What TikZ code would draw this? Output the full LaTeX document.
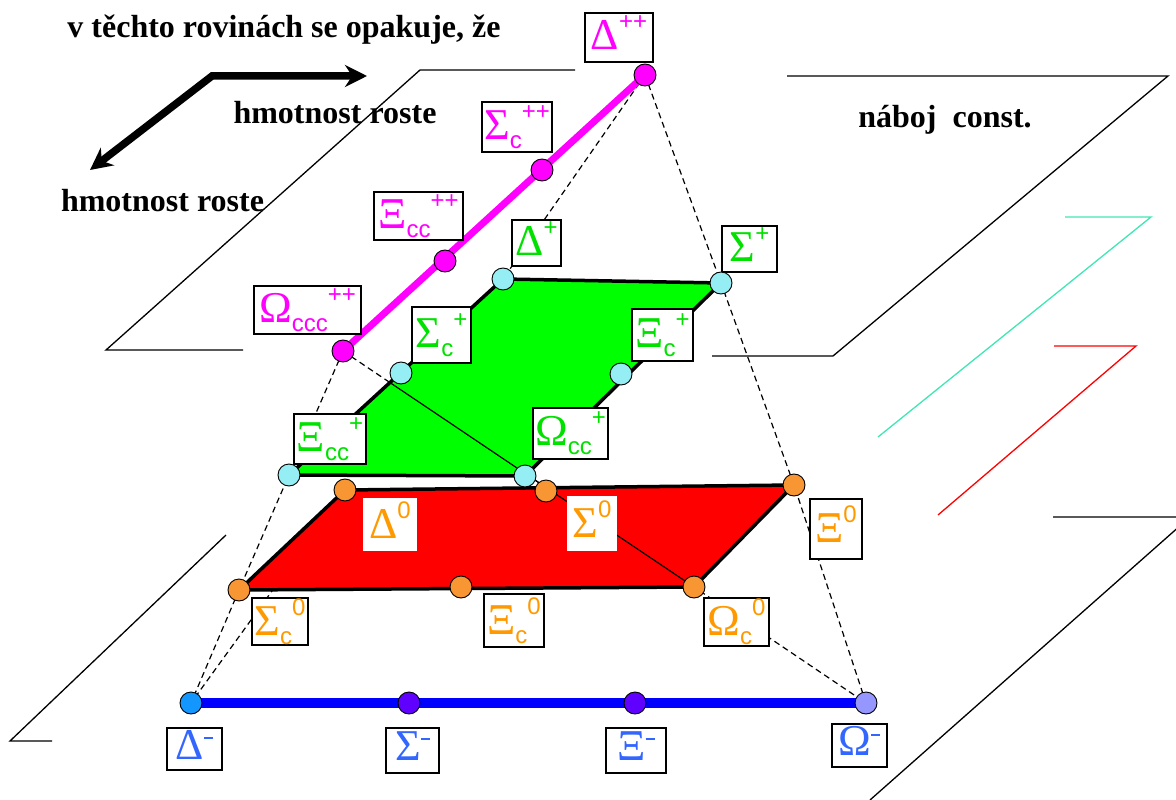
\documentclass[tikz,border=0pt]{standalone}
\usepackage{fontspec}
\setmainfont{Liberation Serif}
\newfontfamily\sansf{Liberation Sans}
\usetikzlibrary{arrows.meta,calc}
\definecolor{mag}{RGB}{255,0,255}
\definecolor{grn}{RGB}{0,255,0}
\definecolor{grntxt}{RGB}{0,225,0}
\definecolor{cyn}{RGB}{150,238,245}
\definecolor{orn}{RGB}{248,150,52}
\definecolor{orntxt}{RGB}{255,153,0}
\definecolor{bltxt}{RGB}{51,102,255}
\definecolor{bline}{RGB}{0,0,255}
\definecolor{dmin}{RGB}{20,150,255}
\definecolor{smin}{RGB}{96,0,255}
\definecolor{omin}{RGB}{150,150,255}
\definecolor{aqua}{RGB}{64,230,180}
\pgfdeclarelayer{back}
\pgfdeclarelayer{poly}
\pgfdeclarelayer{lines}
\pgfsetlayers{back,poly,lines,main}
\newcommand{\glab}[3]{\fontsize{44}{44}\selectfont #1{\sansf\fontsize{24}{24}\selectfont\raisebox{-9pt}{#2}\raisebox{20pt}{#3}}}
\newcommand{\mns}{\rule{9pt}{2pt}}
\tikzset{
  plane/.style={line width=1.3pt},
  edgeline/.style={dash pattern=on 6pt off 4pt, line width=1.2pt},
  part/.style={circle, draw=black, line width=0.9pt, minimum size=22pt, inner sep=0pt},
  lbl/.style={draw=black, line width=1.6pt, fill=white, inner sep=0pt},
  nlbl/.style={fill=white, inner sep=0pt},
  bigtxt/.style={font=\fontsize{32}{36}\selectfont\bfseries, inner sep=0pt},
  plate/.style={draw=black, line width=3.5pt, line join=round},
}
\begin{document}
\begin{tikzpicture}[x=1pt,y=-1pt]
\useasboundingbox (0,0) rectangle (1176,800);
\clip (0,0) rectangle (1176,800);

% label boxes
\node[lbl, text=mag, minimum width=68pt, minimum height=49pt] (LDpp) at (619,37.5) {\glab{Δ}{}{++}};
\node[lbl, text=mag, minimum width=70pt, minimum height=50pt] (LScpp) at (517,127) {\glab{Σ}{c}{++}};
\node[lbl, text=mag, minimum width=89pt, minimum height=48pt] (LXccpp) at (418.5,216) {\glab{Ξ}{cc}{++}};
\node[lbl, text=mag, minimum width=107pt, minimum height=48pt] (LOcccpp) at (307.5,310) {\glab{Ω}{ccc}{++}};
\node[lbl, text=grntxt, minimum width=49pt, minimum height=46pt] (LDp) at (536.5,243) {\glab{Δ}{}{+}};
\node[lbl, text=grntxt, minimum width=55pt, minimum height=46pt] (LSp) at (749.5,249) {\glab{Σ}{}{+}};
\node[lbl, text=grntxt, minimum width=59pt, minimum height=56pt] (LScp) at (441.5,335) {\glab{Σ}{c}{+}};
\node[lbl, text=grntxt, minimum width=61pt, minimum height=52pt] (LXcp) at (662.5,335) {\glab{Ξ}{c}{+}};
\node[lbl, text=grntxt, minimum width=72pt, minimum height=50pt] (LXccp) at (330,439) {\glab{Ξ}{cc}{+}};
\node[lbl, text=grntxt, minimum width=75pt, minimum height=51pt] (LOccp) at (570.5,433.5) {\glab{Ω}{cc}{+}};
\node[nlbl, text=orntxt, minimum width=54pt, minimum height=53pt] (LD0) at (390,524.5) {\glab{Δ}{}{0}};
\node[nlbl, text=orntxt, minimum width=50pt, minimum height=55pt] (LS0) at (592,523.5) {\glab{Σ}{}{0}};
\node[lbl, text=orntxt, minimum width=52pt, minimum height=60pt] (LX0) at (836,529) {\glab{Ξ}{}{0}};
\node[lbl, text=orntxt, minimum width=56pt, minimum height=47pt] (LSc0) at (280,621.5) {\glab{Σ}{c}{0}};
\node[lbl, text=orntxt, minimum width=60pt, minimum height=53pt] (LXc0) at (514,620.5) {\glab{Ξ}{c}{0}};
\node[lbl, text=orntxt, minimum width=65pt, minimum height=48pt] (LOc0) at (736.5,622) {\glab{Ω}{c}{0}};
\node[lbl, text=bltxt, minimum width=55pt, minimum height=42pt] (LDm) at (194.5,749) {\glab{Δ}{}{\mns}};
\node[lbl, text=bltxt, minimum width=53pt, minimum height=45pt] (LSm) at (412.5,750.5) {\glab{Σ}{}{\mns}};
\node[lbl, text=bltxt, minimum width=60pt, minimum height=45pt] (LXm) at (636,750.5) {\glab{Ξ}{}{\mns}};
\node[lbl, text=bltxt, minimum width=55pt, minimum height=43pt] (LOm) at (859.5,745.5) {\glab{Ω}{}{\mns}};

% particles
\node[part, fill=mag] (Dpp) at (645,75) {};
\node[part, fill=mag] (Scpp) at (542,170) {};
\node[part, fill=mag] (Xccpp) at (445,261) {};
\node[part, fill=mag] (Occc) at (343,351) {};
\node[part, fill=cyn] (Dp) at (503,279) {};
\node[part, fill=cyn] (Sp) at (721,283) {};
\node[part, fill=cyn] (Scp) at (401,373) {};
\node[part, fill=cyn] (Xcp) at (621,374) {};
\node[part, fill=cyn] (Xcc) at (289,475) {};
\node[part, fill=cyn] (Occ) at (525,476) {};
\node[part, fill=orn] (D0) at (345,490) {};
\node[part, fill=orn] (S0) at (546,491) {};
\node[part, fill=orn] (X0) at (794,485) {};
\node[part, fill=orn] (Sc0) at (239,590) {};
\node[part, fill=orn] (Xc0) at (461,587) {};
\node[part, fill=orn] (Oc0) at (694,587) {};
\node[part, fill=dmin] (Dm) at (191,703) {};
\node[part, fill=smin] (Sm) at (409,703) {};
\node[part, fill=smin] (Xm) at (635,703) {};
\node[part, fill=omin] (Om) at (866,703) {};

\begin{pgfonlayer}{back}
  % planes
  \draw[plane] (575,70) -- (420,70) -- (106,350) -- (243,350);
  \draw[plane] (787,76) -- (1168,76) -- (833,356) -- (712,356);
  \draw[plane, aqua] (1065,217) -- (1151,217) -- (878,437);
  \draw[plane, red] (1054,346) -- (1136,346) -- (938,515);
  \draw[plane] (1053,517) -- (1190,517) -- (870,800);
  \draw[plane] (226,535) -- (10,741) -- (52,741);
  % dashed edges
  \draw[edgeline] (Dpp.center) -- (Dp.center);
  \draw[edgeline] (Dpp.center) -- (Sp.center) -- (X0.center) -- (Om.center);
  \draw[edgeline] (Occc.center) -- (Xcc.center) -- (Sc0.center) -- (Dm.center);
  \draw[edgeline] (D0.center) -- (Dm.center);
  \draw[edgeline] (Occc.center) -- (Oc0.center) -- (Om.center);
\end{pgfonlayer}

\begin{pgfonlayer}{poly}
  \filldraw[plate, fill=grn] (Dp.center) -- (Sp.center) -- (Occ.center) -- (Xcc.center) -- cycle;
  \filldraw[plate, fill=red] (D0.center) -- (X0.center) -- (Oc0.center) -- (Sc0.center) -- cycle;
\end{pgfonlayer}

\begin{pgfonlayer}{lines}
  \draw[line width=1.2pt] ($(Occc.center)!0.136!(Oc0.center)$) -- (Oc0.center);
  \draw[mag, line width=7pt] (Dpp.center) -- (Occc.center);
  \draw[bline, line width=10pt] (Dm.center) -- (Om.center);
\end{pgfonlayer}

% texts
\node[bigtxt, anchor=base] (title) at (284,38) {v těchto rovinách se opakuje, že};
\node[bigtxt, anchor=base] (hm1) at (335,123) {hmotnost roste};
\node[bigtxt, anchor=base] (hm2) at (162.5,211) {hmotnost roste};
\node[bigtxt, anchor=base] (naboj) at (945,128) {náboj\ \ const.};

% arrow
\coordinate (aL) at (90,170);
\coordinate (aC) at (212,76);
\coordinate (aR) at (367,76);
\draw[line width=7.5pt, {Stealth[length=22pt,width=22pt]}-{Stealth[length=22pt,width=22pt]}] (aL) -- (aC) -- (aR);
\end{tikzpicture}
\end{document}
